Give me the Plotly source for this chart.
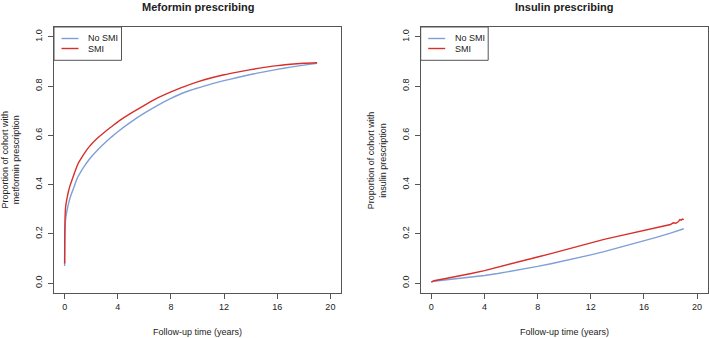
import plotly.graph_objects as go

# ---------------- data ----------------
met_time = [0, 0.01, 0.03, 0.06, 0.1, 0.2, 0.3, 0.43, 0.6, 0.8, 1.0, 1.25, 1.5, 1.75, 2.0,
            2.5, 3, 3.5, 4, 5, 6, 7, 8, 9, 10, 11, 12, 13, 14, 15, 16, 17, 18, 19]
met_nosmi = [0.07, 0.15, 0.21, 0.25, 0.27, 0.30, 0.325, 0.35, 0.375, 0.405, 0.432, 0.455,
             0.476, 0.495, 0.512, 0.542, 0.568, 0.592, 0.615, 0.655, 0.69, 0.722, 0.75, 0.774,
             0.792, 0.808, 0.822, 0.835, 0.847, 0.858, 0.868, 0.877, 0.885, 0.893]
met_smi = [0.08, 0.19, 0.26, 0.30, 0.32, 0.35, 0.375, 0.40, 0.426, 0.456, 0.484, 0.507, 0.528,
           0.547, 0.563, 0.59, 0.613, 0.634, 0.655, 0.69, 0.722, 0.752, 0.777, 0.798, 0.817,
           0.833, 0.846, 0.857, 0.867, 0.876, 0.883, 0.889, 0.893, 0.895]

ins_time_nosmi = [0, 0.2, 1, 2, 3, 4, 5, 6, 7, 8, 9, 10, 11, 12, 13, 14, 15, 16, 17, 18, 19]
ins_nosmi = [0.005, 0.008, 0.013, 0.018, 0.024, 0.031, 0.039, 0.048, 0.057, 0.068, 0.079,
             0.09, 0.102, 0.115, 0.128, 0.142, 0.157, 0.172, 0.187, 0.203, 0.221]
ins_time_smi = [0, 0.2, 1, 2, 3, 4, 5, 6, 7, 8, 9, 10, 11, 12, 13, 14, 15, 16, 16.5, 17,
                17.5, 18, 18.2, 18.4, 18.6, 18.7, 18.8, 18.9, 19.0]
ins_smi = [0.004, 0.010, 0.018, 0.027, 0.039, 0.051, 0.064, 0.077, 0.091, 0.106, 0.12,
           0.135, 0.15, 0.164, 0.178, 0.19, 0.202, 0.214, 0.218, 0.225, 0.23, 0.238, 0.245,
           0.243, 0.25, 0.258, 0.256, 0.26, 0.258]

x_ticks = [0, 4, 8, 12, 16, 20]
y_ticks = [0, 0.2, 0.4, 0.6, 0.8, 1.0]
y_ticktext = ["0.0", "0.2", "0.4", "0.6", "0.8", "1.0"]
titles = ["Meformin prescribing", "Insulin prescribing"]
y_titles = ["Proportion of cohort with<br>metformin prescription",
            "Proportion of cohort with<br>insulin prescription"]
x_title = "Follow-up time (years)"
legend_names = ["No SMI", "SMI"]

BLUE = "#7f9fd6"
RED = "#d7302a"
TXT = "#222222"
LINE = "#555555"
FONT = "Liberation Sans, Arial, sans-serif"
LW = 1.4

W, H = 709, 338


def X(px):
    return px / W


def Y(py):
    return 1 - py / H


fig = go.Figure()

fig.add_trace(go.Scatter(x=met_time, y=met_nosmi, mode="lines",
                         line=dict(color=BLUE, width=LW, shape="spline", smoothing=0.8),
                         xaxis="x", yaxis="y", showlegend=False))
fig.add_trace(go.Scatter(x=met_time, y=met_smi, mode="lines",
                         line=dict(color=RED, width=LW, shape="spline", smoothing=0.8),
                         xaxis="x", yaxis="y", showlegend=False))
fig.add_trace(go.Scatter(x=ins_time_nosmi, y=ins_nosmi, mode="lines",
                         line=dict(color=BLUE, width=LW), xaxis="x2", yaxis="y2", showlegend=False))
fig.add_trace(go.Scatter(x=ins_time_smi, y=ins_smi, mode="lines",
                         line=dict(color=RED, width=LW), xaxis="x2", yaxis="y2", showlegend=False))

panels = [(54, 341), (420.7, 707.7)]
top, bottom = 27, 293

common_x = dict(range=[-0.8, 20.8], tickvals=x_ticks, ticks="outside", ticklen=5, tickwidth=1,
                tickcolor=LINE, showline=True, mirror=True, linecolor=LINE, linewidth=1,
                showgrid=False, zeroline=False, tickfont=dict(size=9, color=TXT, family=FONT))
common_y = dict(range=[-0.04, 1.04], tickvals=y_ticks, ticktext=y_ticktext, ticks="outside",
                ticklen=5, tickwidth=1, tickcolor=LINE, showline=True, mirror=True,
                linecolor=LINE, linewidth=1, showgrid=False, zeroline=False, tickangle=-90,
                ticklabelstandoff=2, tickfont=dict(size=9, color=TXT, family=FONT))

fig.update_layout(
    width=W, height=H, margin=dict(l=0, r=0, t=0, b=0),
    paper_bgcolor="white", plot_bgcolor="white",
    xaxis=dict(domain=[X(panels[0][0]), X(panels[0][1])], anchor="y", **common_x),
    yaxis=dict(domain=[Y(bottom), Y(top)], anchor="x", **common_y),
    xaxis2=dict(domain=[X(panels[1][0]), X(panels[1][1])], anchor="y2", **common_x),
    yaxis2=dict(domain=[Y(bottom), Y(top)], anchor="x2", **common_y),
)

shapes = []
annotations = []
for i, (l, r) in enumerate(panels):
    cx = (l + r) / 2
    annotations.append(dict(text="<b>" + titles[i] + "</b>", x=X(cx), y=Y(6.5), xref="paper",
                            yref="paper", xanchor="center", yanchor="middle", showarrow=False,
                            font=dict(size=11, color=TXT, family=FONT)))
    annotations.append(dict(text=x_title, x=X(cx), y=Y(331.5), xref="paper", yref="paper",
                            xanchor="center", yanchor="middle", showarrow=False,
                            font=dict(size=9, color=TXT, family=FONT)))
    annotations.append(dict(text=y_titles[i], x=X(l - 43.5), y=Y(160), xref="paper",
                            yref="paper", xanchor="center", yanchor="middle", showarrow=False,
                            textangle=-90, font=dict(size=9, color=TXT, family=FONT)))
    # legend box
    shapes.append(dict(type="rect", xref="paper", yref="paper", x0=X(l), x1=X(l + 67.5),
                       y0=Y(60.3), y1=Y(top), line=dict(color=LINE, width=1),
                       fillcolor="rgba(0,0,0,0)"))
    for j, (name, col, yy) in enumerate(zip(legend_names, [BLUE, RED], [38.5, 48.5])):
        shapes.append(dict(type="line", xref="paper", yref="paper", x0=X(l + 7.5),
                           x1=X(l + 24.5), y0=Y(yy), y1=Y(yy), line=dict(color=col, width=LW)))
        annotations.append(dict(text=name, x=X(l + 32), y=Y(yy), xref="paper", yref="paper",
                                xanchor="left", yanchor="middle", showarrow=False,
                                font=dict(size=9, color=TXT, family=FONT)))

fig.update_layout(shapes=shapes, annotations=annotations)

fig.write_html("out.html")
